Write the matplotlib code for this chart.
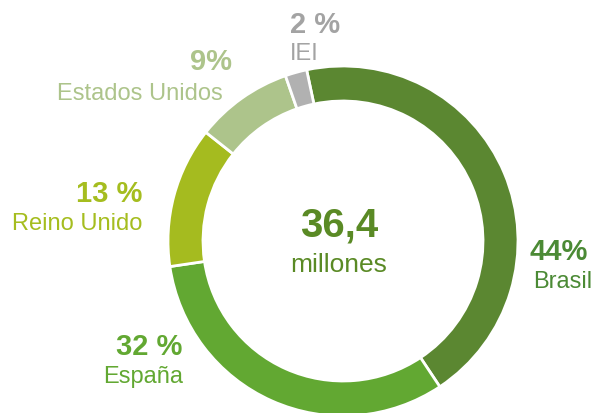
import matplotlib
matplotlib.use("Agg")
import matplotlib.pyplot as plt

# Data
countries = ["Brasil", "IEI", "Estados Unidos", "Reino Unido", "España"]
shares = [44, 2, 9, 13, 32]
pct_labels = ["44%", "2 %", "9%", "13 %", "32 %"]
ring_colors = ["#5b8731", "#b1b1b1", "#adc48b", "#a5bb1f", "#62a832"]
text_colors = ["#4b8a35", "#a3a3a3", "#adc48b", "#a5bd1f", "#62a832"]
total_value = "36,4"
total_unit = "millones"

W, H = 601, 414
plt.rcParams['font.family'] = ['Liberation Sans', 'DejaVu Sans']
fig = plt.figure(figsize=(W / 100, H / 100), dpi=100)
ax = fig.add_axes([0, 0, 1, 1])
ax.set_xlim(0, W)
ax.set_ylim(0, H)
ax.axis('off')

cx, cy, R = 343, H - 242, 175
# order in pie: Brasil clockwise first, then España, Reino Unido, EEUU, IEI
order = [0, 4, 3, 2, 1]
ax.pie([shares[i] for i in order], colors=[ring_colors[i] for i in order],
       center=(cx, cy), radius=R, startangle=102, counterclock=False,
       wedgeprops=dict(width=35, edgecolor='white', linewidth=2), frame=True)
ax.set_xlim(0, W)
ax.set_ylim(0, H)
ax.set_aspect('auto')
ax.axis('off')

def y(v):
    return H - v

# label placements (pixel coords from top): pct (x, baseline, ha), name (x, baseline, ha)
pos = {
    "Brasil": ((530, 260, 'left'), (533, 288, 'left')),
    "IEI": ((290, 33, 'left'), (290, 60, 'left')),
    "Estados Unidos": ((211, 70, 'center'), (223, 100, 'right')),
    "Reino Unido": ((142, 202, 'right'), (142, 230, 'right')),
    "España": ((182, 355, 'right'), (183, 383, 'right')),
}
for i, name in enumerate(countries):
    (px, pyb, pha), (nx, nyb, nha) = pos[name]
    ax.text(px, y(pyb), pct_labels[i], ha=pha, va='baseline', fontsize=21,
            fontweight='bold', color=text_colors[i])
    ax.text(nx, y(nyb), name, ha=nha, va='baseline', fontsize=17,
            color=text_colors[i])

ax.text(339, y(237), total_value, ha='center', va='baseline', fontsize=29,
        fontweight='bold', color="#5a8a25")
ax.text(339, y(272), total_unit, ha='center', va='baseline', fontsize=19,
        color="#5a8a25")

fig.savefig("out.png", dpi=100)
